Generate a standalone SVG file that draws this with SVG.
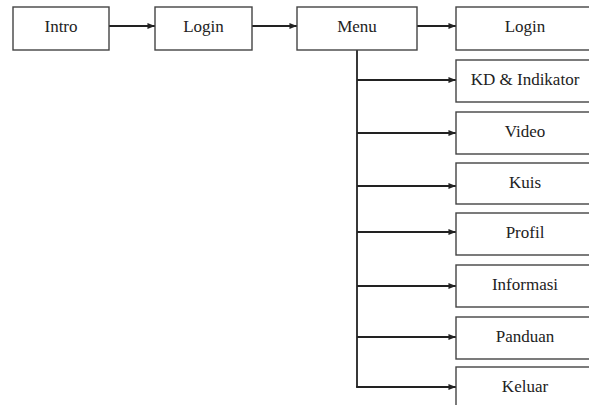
<svg xmlns="http://www.w3.org/2000/svg" width="589" height="405" viewBox="0 0 589 405">
<style>
.box{fill:#fff;stroke:#444;stroke-width:1.4}
.lbl{font-family:"Liberation Serif","Times New Roman",serif;font-size:17px;fill:#222;text-anchor:middle}
.con{stroke:#222;stroke-width:1.8;fill:none}
</style>
<defs>
<marker id="ah" viewBox="0 0 10 10" refX="10" refY="5" markerWidth="4.2" markerHeight="4.2" orient="auto" markerUnits="strokeWidth">
<path d="M0,1 L10,5 L0,9 z" fill="#222"/>
</marker>
</defs>
<rect width="589" height="405" fill="#fff"/>
<g id="connectors">
<path class="con" d="M109,26 H155" marker-end="url(#ah)"/>
<path class="con" d="M252,26 H297" marker-end="url(#ah)"/>
<path class="con" d="M417,26 H456" marker-end="url(#ah)"/>
<path class="con" d="M357,50 V387"/>
<path class="con" d="M357,80 H456" marker-end="url(#ah)"/>
<path class="con" d="M357,133 H456" marker-end="url(#ah)"/>
<path class="con" d="M357,186 H456" marker-end="url(#ah)"/>
<path class="con" d="M357,232 H456" marker-end="url(#ah)"/>
<path class="con" d="M357,286 H456" marker-end="url(#ah)"/>
<path class="con" d="M357,337 H456" marker-end="url(#ah)"/>
<path class="con" d="M356.1,387 H456" marker-end="url(#ah)"/>
</g>
<g id="intro"><rect class="box" x="13" y="7" width="96" height="43"/><text class="lbl" x="61" y="32">Intro</text></g>
<g id="login1"><rect class="box" x="155" y="7" width="97" height="43"/><text class="lbl" x="203.5" y="32">Login</text></g>
<g id="menu"><rect class="box" x="297" y="7" width="120" height="43"/><text class="lbl" x="357" y="32">Menu</text></g>
<g id="login2"><rect class="box" x="456" y="7" width="138" height="43"/><text class="lbl" x="525" y="32">Login</text></g>
<g id="kd"><rect class="box" x="456" y="60" width="138" height="42"/><text class="lbl" x="525" y="85">KD &amp; Indikator</text></g>
<g id="video"><rect class="box" x="456" y="112" width="138" height="42"/><text class="lbl" x="525" y="137">Video</text></g>
<g id="kuis"><rect class="box" x="456" y="163" width="138" height="41"/><text class="lbl" x="525" y="188">Kuis</text></g>
<g id="profil"><rect class="box" x="456" y="213" width="138" height="42"/><text class="lbl" x="525" y="238">Profil</text></g>
<g id="informasi"><rect class="box" x="456" y="265" width="138" height="42"/><text class="lbl" x="525" y="290">Informasi</text></g>
<g id="panduan"><rect class="box" x="456" y="317" width="138" height="42"/><text class="lbl" x="525" y="342">Panduan</text></g>
<g id="keluar"><rect class="box" x="456" y="367" width="138" height="45"/><text class="lbl" x="525" y="392">Keluar</text></g>
</svg>
